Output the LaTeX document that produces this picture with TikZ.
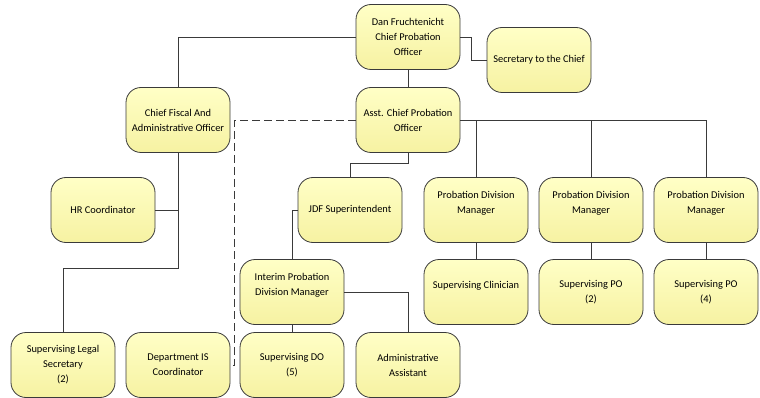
\documentclass[tikz,border=0pt]{standalone}
\usepackage{fontspec}
\setmainfont{Carlito}
\usepackage{tikz}
\definecolor{boxtop}{HTML}{FFFFC6}
\definecolor{boxbot}{HTML}{F6F2A2}
\definecolor{edge}{HTML}{3A3A3A}

\begin{document}
\begin{tikzpicture}[x=1pt,y=-1pt,
    post/.style={draw=edge,line width=0.8pt,rounded corners=15pt,top color=boxtop,bottom color=boxbot,
      minimum width=104pt,minimum height=65pt,align=center,inner sep=1pt,
      font=\fontsize{10.4}{15}\selectfont},
    link/.style={draw=edge,line width=0.9pt}]
  \useasboundingbox (0,0) rectangle (760,398);
  % top level
  \node[post] (dan) at (408,37) {Dan Fruchtenicht\\Chief Probation\\Officer};
  \node[post] (sec) at (539,60) {Secretary to the Chief};
  \node[post] (cfo) at (178,120) {Chief Fiscal And\\Administrative Officer};
  \node[post] (acpo) at (408,120) {Asst. Chief Probation\\Officer};
  % middle
  \node[post] (hr) at (103,210) {HR Coordinator};
  \node[post] (jdf) at (350,210) {JDF Superintendent};
  \node[post] (pdma) at (476,210) {Probation Division\\Manager\\~};
  \node[post] (pdmb) at (591,210) {Probation Division\\Manager\\~};
  \node[post] (pdmc) at (706,210) {Probation Division\\Manager\\~};
  \node[post] (ipdm) at (292,292) {Interim Probation\\Division Manager\\~};
  \node[post] (clin) at (476,292) {Supervising Clinician\\~};
  \node[post] (poa) at (591,292) {Supervising PO\\(2)};
  \node[post] (pob) at (706,292) {Supervising PO\\(4)};
  % bottom
  \node[post] (legal) at (63,365) {Supervising Legal\\Secretary\\(2)};
  \node[post] (dis) at (178,365) {Department IS\\Coordinator};
  \node[post] (sdo) at (292,365) {Supervising DO\\(5)};
  \node[post] (admin) at (408,365) {Administrative\\Assistant};

  \draw[link] (dan.west) -| (cfo.north);
  \draw[link] (dan.east) -- ++(11,0) |- (sec.west);
  \draw[link] (dan.south) -- (acpo.north);
  \draw[link] (acpo.east) -| (pdmc.north);
  \draw[link] (pdma.north) |- (acpo.east);
  \draw[link] (pdmb.north) |- (acpo.east);
  \draw[link] (acpo.south) -- ++(0,11) -| (jdf.north);
  \draw[link,dash pattern=on 8pt off 4pt] (acpo.west) -- ++(-121,0) |- (dis.east);
  \draw[link] (pdma.south) -- (clin.north);
  \draw[link] (pdmb.south) -- (poa.north);
  \draw[link] (pdmc.south) -- (pob.north);
  \draw[link] (cfo.south) -- ++(0,116) -| (legal.north);
  \draw[link] (hr.east) -- (hr.east -| cfo.south);
  \draw[link] (jdf.west) -| (ipdm.north);
  \draw[link] (ipdm.south) -- (sdo.north);
  \draw[link] (ipdm.east) -| (admin.north);
\end{tikzpicture}
\end{document}
